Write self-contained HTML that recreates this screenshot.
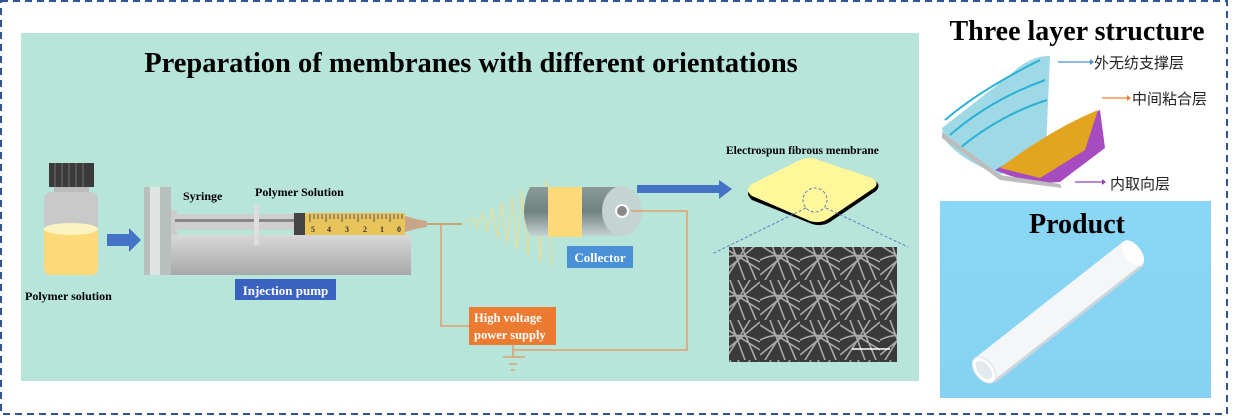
<!DOCTYPE html>
<html><head><meta charset="utf-8"><style>
html,body{margin:0;padding:0;background:#fff;}
body{width:1244px;height:416px;overflow:hidden;position:relative;font-family:"Liberation Serif",serif;}
</style></head><body>
<svg width="1244" height="416" viewBox="0 0 1244 416" xmlns="http://www.w3.org/2000/svg" style="position:absolute;left:0;top:0">
<defs>
<linearGradient id="gy" x1="0" y1="0" x2="0" y2="1"><stop offset="0" stop-color="#d8d8d8"/><stop offset="1" stop-color="#a8a8a8"/></linearGradient>
<linearGradient id="cyl" x1="0" y1="0" x2="0" y2="1"><stop offset="0" stop-color="#8a9b98"/><stop offset=".5" stop-color="#6f8280"/><stop offset="1" stop-color="#c6d3d2"/></linearGradient>
<linearGradient id="blue" x1="0" y1="0" x2="0" y2="1"><stop offset="0" stop-color="#8ad6f5"/><stop offset="1" stop-color="#85d2f2"/></linearGradient>
<pattern id="fib" width="40" height="40" patternUnits="userSpaceOnUse">
<rect width="40" height="40" fill="#3a3a3a"/>
<path d="M0 5 L40 30 M0 35 L40 2 M10 0 L25 40 M30 0 L5 40 M0 20 Q20 10 40 22 M18 0 Q28 20 36 40" stroke="#aaa" stroke-width="1.6" fill="none"/>
</pattern>
</defs>
<rect x="1" y="1" width="1226" height="413" fill="none" stroke="#2f5597" stroke-width="2" stroke-dasharray="7,5"/>
<rect x="21" y="33" width="898" height="348" fill="#b8e5d9"/>
<text x="471" y="72" text-anchor="middle" font-size="28.5" font-weight="bold">Preparation of membranes with different orientations</text>
<!-- vial -->
<rect x="49" y="163" width="45" height="24" fill="#3a3a3a"/>
<path d="M55 163v24M62 163v24M69 163v24M76 163v24M83 163v24" stroke="#555" stroke-width="2"/>
<rect x="54" y="187" width="35" height="6" fill="#bbb"/>
<rect x="44" y="192" width="54" height="83" rx="7" fill="#c9c9c9"/>
<path d="M44 229 Q71 220 98 229 V268 Q98 275 91 275 H51 Q44 275 44 268Z" fill="#fdd97a"/>
<ellipse cx="71" cy="229" rx="27" ry="6" fill="#fbf3c0"/>
<text x="25" y="300" font-size="12" font-weight="bold">Polymer solution</text>
<polygon points="107,234 129,234 129,228 141,240 129,252 129,246 107,246" fill="#4472c4"/>
<!-- pump -->
<rect x="169" y="235" width="242" height="40" fill="url(#gy)"/>
<rect x="144" y="187" width="27" height="88" fill="#b9bfbd"/>
<rect x="150" y="187" width="10" height="88" fill="#dfe3e2"/>
<rect x="171" y="210" width="6" height="25" fill="#ccc"/>
<rect x="175" y="214" width="122" height="16" fill="#cfcfcf"/>
<rect x="175" y="219" width="122" height="3" fill="#888"/>
<rect x="254" y="205" width="5" height="40" fill="#ddd"/>
<rect x="294" y="213" width="12" height="22" fill="#444"/>
<rect x="305" y="213" width="100" height="22" fill="#e9c45a"/>
<path d="M310 214v8M314 214v5M318 214v5M322 214v5M326 214v8M330 214v5M334 214v5M338 214v5M342 214v8M346 214v5M350 214v5M354 214v5M358 214v8M362 214v5M366 214v5M370 214v5M374 214v8M378 214v5M382 214v5M386 214v5M390 214v8M394 214v5M398 214v5M402 214v5" stroke="#555" stroke-width="1"/>
<text font-size="8" fill="#333" font-weight="bold"><tspan x="311" y="232">5</tspan><tspan x="327" y="232">4</tspan><tspan x="345" y="232">3</tspan><tspan x="363" y="232">2</tspan><tspan x="380" y="232">1</tspan><tspan x="397" y="232">0</tspan></text>
<polygon points="405,216 420,220 427,221 427,227 420,228 405,232" fill="#c9a58a"/>
<line x1="427" y1="224" x2="462" y2="224" stroke="#c8a76f" stroke-width="2"/>
<text x="183" y="200" font-size="12" font-weight="bold">Syringe</text>
<text x="255" y="196" font-size="12" font-weight="bold">Polymer Solution</text>
<rect x="235" y="279" width="101" height="21" fill="#3a62c0"/>
<text x="285.5" y="295" text-anchor="middle" font-size="13" font-weight="bold" fill="#fff">Injection pump</text>
<!-- jet -->
<polyline points="465,222 472,218 477,228 482,213 487,232 492,208 497,238 502,202 507,244 512,196 517,250 522,190 528,256 534,184 540,262 546,180 552,266" stroke="#f1dc8a" stroke-width="1" fill="none"/>
<!-- collector -->
<path d="M530 187 H622 V236 H530 Q518 211 530 187Z" fill="url(#cyl)"/>
<rect x="548" y="187" width="34" height="50" fill="#fdd97a"/>
<ellipse cx="622" cy="211" rx="20" ry="25" fill="#c3d4d2"/>
<circle cx="622" cy="211" r="7" fill="#fff"/><circle cx="622" cy="211" r="5" fill="#888"/>
<rect x="567" y="246" width="66" height="22" fill="#4a90d6"/>
<text x="600" y="262" text-anchor="middle" font-size="13" font-weight="bold" fill="#fff">Collector</text>
<!-- wires -->
<path d="M441 224 V326 H469" stroke="#e8935a" stroke-width="1.3" fill="none"/>
<path d="M513 345 V350 H687 V211 H631" stroke="#e8935a" stroke-width="1.3" fill="none"/>
<path d="M513 350V357 M503 357H525 M509 364H517 M511 370H515" stroke="#e8935a" stroke-width="1.3"/>
<rect x="469" y="307" width="87" height="38" fill="#ec7a30"/>
<text x="474" y="322" font-size="12.5" font-weight="bold" fill="#fff">High voltage</text>
<text x="474" y="339" font-size="12.5" font-weight="bold" fill="#fff">power supply</text>
<!-- arrow -->
<polygon points="637,185 719,185 719,180 732,189 719,199 719,193 637,193" fill="#4472c4"/>
<text x="726" y="154" font-size="11.5" font-weight="bold">Electrospun fibrous membrane</text>
<path d="M752 200 Q744 193 752 187 L800 162 Q810 158 818 162 L874 180 Q882 185 876 191 L830 222 Q822 227 812 224Z" fill="#000"/>
<path d="M752 196 Q744 190 752 184 L800 160 Q810 156 818 160 L872 178 Q880 183 874 188 L828 219 Q820 224 810 221Z" fill="#fff799"/>
<circle cx="815" cy="200" r="12" fill="none" stroke="#5b7fc0" stroke-dasharray="3,2"/>
<path d="M806 208 L712 254 M826 208 L908 247" stroke="#5b7fc0" stroke-dasharray="3,2"/>
<rect x="729" y="247" width="168" height="115" fill="url(#fib)"/>
<line x1="852" y1="349" x2="890" y2="349" stroke="#fff" stroke-width="1.5"/>
<!-- right -->
<text x="1077" y="40" text-anchor="middle" font-size="28" font-weight="bold">Three layer structure</text>
<path d="M942 128 L1010 75 Q1030 55 1050 56 L1046 150 L1000 175 Q960 160 945 140Z" fill="#9fd9e6"/>
<path d="M945 120 Q980 90 1040 60 M950 135 Q990 100 1045 80 M960 148 Q1000 115 1047 100" stroke="#2bb0d6" stroke-width="2" fill="none"/>
<path d="M995 170 L1100 110 L1105 148 L1060 182 Q1030 185 995 170Z" fill="#a64cc0"/>
<path d="M1000 168 Q1050 130 1098 110 L1085 150 L1040 178Z" fill="#e3a420"/>
<path d="M942 132 L1000 175 L1060 184 L1062 188 L1000 180 L942 138Z" fill="#bcbcbc"/>
<line x1="1058" y1="62" x2="1090" y2="62" stroke="#4a90d6" stroke-width="1.3"/><polygon points="1090,59 1094,62 1090,65" fill="#4a90d6"/>
<line x1="1102" y1="98" x2="1127" y2="98" stroke="#f08030" stroke-width="1.3"/><polygon points="1127,95 1131,98 1127,101" fill="#f08030"/>
<line x1="1075" y1="182" x2="1102" y2="182" stroke="#9040b0" stroke-width="1.3"/><polygon points="1102,179 1106,182 1102,185" fill="#9040b0"/>
<text font-family="'Liberation Sans','Noto Sans CJK SC',sans-serif" font-size="15" fill="#222"><tspan x="1094" y="68">外无纺支撑层</tspan><tspan x="1132" y="104">中间粘合层</tspan><tspan x="1110" y="189">内取向层</tspan></text>
<rect x="940" y="201" width="271" height="197" fill="url(#blue)"/>
<text x="1077" y="233" text-anchor="middle" font-size="28" font-weight="bold">Product</text>
<polygon points="1143,265 1124,241 975,358 994,382" fill="#f4f6f7"/>
<line x1="1143" y1="265" x2="994" y2="382" stroke="#c9d6de" stroke-width="3"/>
<ellipse cx="1133" cy="253" rx="8" ry="15" transform="rotate(-38 1133 253)" fill="#fff"/>
<ellipse cx="984" cy="370" rx="9" ry="15" transform="rotate(-38 984 370)" fill="#fff" stroke="#dde3e6"/>
<ellipse cx="984" cy="370" rx="6" ry="11" transform="rotate(-38 984 370)" fill="#e3eaee"/>
</svg>
</body></html>
